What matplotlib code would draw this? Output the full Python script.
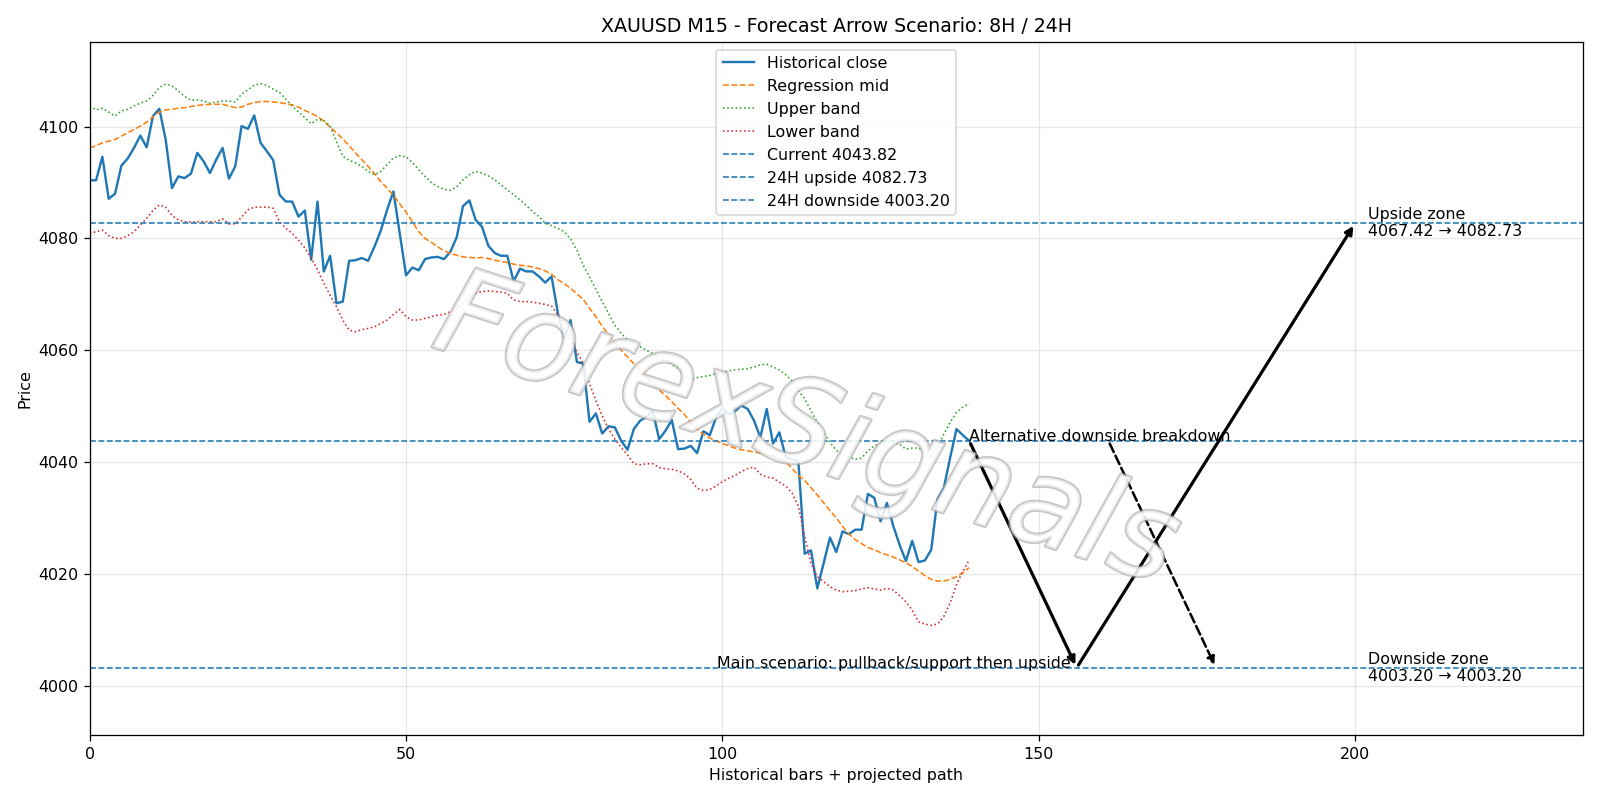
import matplotlib
matplotlib.use("Agg")
import matplotlib.pyplot as plt
import matplotlib.patheffects as pe

# ----------------------
# Data
# ----------------------
close = [
    4090.4, 4090.4, 4094.6, 4087.1, 4088.0, 4093.0, 4094.3, 4096.2, 4098.4, 4096.3,
    4101.9, 4103.2, 4097.7, 4089.0, 4091.1, 4090.8, 4091.6, 4095.3, 4093.8, 4091.7,
    4094.1, 4096.2, 4090.7, 4092.9, 4100.1, 4099.6, 4102.0, 4097.1, 4095.6, 4094.0,
    4087.8, 4086.6, 4086.6, 4083.9, 4085.0, 4076.2, 4086.6, 4074.1, 4076.9, 4068.4,
    4068.7, 4076.0, 4076.1, 4076.5, 4076.0, 4078.5, 4081.4, 4085.1, 4088.4, 4080.9,
    4073.4, 4074.8, 4074.3, 4076.3, 4076.6, 4076.7, 4076.3, 4077.6, 4080.2, 4085.8,
    4086.8, 4083.3, 4082.1, 4078.7, 4077.4, 4076.9, 4076.9, 4072.3, 4074.6, 4074.1,
    4074.1, 4073.2, 4072.1, 4073.2, 4066.6, 4062.1, 4065.4, 4057.9, 4057.6, 4047.2,
    4048.7, 4045.1, 4046.4, 4046.2, 4043.8, 4042.2, 4045.9, 4047.4, 4048.1, 4049.1,
    4044.1, 4045.6, 4047.5, 4042.3, 4042.4, 4042.9, 4041.6, 4045.5, 4044.8, 4048.0,
    4049.7, 4048.5, 4049.1, 4050.1, 4049.5, 4047.4, 4044.4, 4049.5, 4043.3, 4045.3,
    4040.9, 4040.5, 4040.2, 4023.6, 4024.2, 4017.4, 4021.9, 4026.5, 4023.9, 4027.6,
    4027.1, 4027.9, 4027.9, 4034.3, 4033.6, 4029.4, 4032.7, 4028.6, 4025.2, 4022.3,
    4025.9, 4022.1, 4022.4, 4024.3, 4033.4, 4035.4, 4040.8, 4045.9, 4044.8, 4043.8,
]

reg_mid = [
    4096.2, 4096.6, 4097.1, 4097.4, 4097.7, 4098.3, 4098.9, 4099.5, 4100.1, 4100.8,
    4101.8, 4102.6, 4103.0, 4103.1, 4103.3, 4103.4, 4103.6, 4103.8, 4103.9, 4104.0,
    4104.0, 4104.0, 4103.7, 4103.4, 4103.5, 4104.0, 4104.3, 4104.5, 4104.5, 4104.4,
    4104.3, 4104.1, 4103.9, 4103.5, 4102.9, 4102.4, 4101.8, 4101.0, 4099.9, 4098.9,
    4097.8, 4096.6, 4095.3, 4094.1, 4092.9, 4091.6, 4090.2, 4089.0, 4087.7, 4086.2,
    4084.7, 4083.0, 4081.2, 4080.0, 4079.3, 4078.5, 4077.8, 4077.3, 4077.0, 4076.7,
    4076.6, 4076.5, 4076.6, 4076.4, 4076.1, 4075.9, 4075.7, 4075.4, 4075.2, 4075.1,
    4074.9, 4074.6, 4074.2, 4073.6, 4072.6, 4071.9, 4071.1, 4070.1, 4069.1, 4067.5,
    4066.0, 4064.3, 4062.8, 4061.3, 4060.0, 4058.8, 4057.6, 4056.4, 4055.2, 4054.0,
    4052.9, 4051.9, 4050.8, 4049.6, 4048.5, 4047.1, 4045.9, 4045.0, 4044.3, 4043.8,
    4043.3, 4042.9, 4042.5, 4042.2, 4042.0, 4041.8, 4041.6, 4041.4, 4041.1, 4040.6,
    4040.0, 4038.9, 4037.6, 4036.7, 4035.4, 4034.1, 4032.7, 4031.3, 4030.0, 4028.5,
    4027.1, 4026.1, 4025.4, 4024.7, 4024.3, 4023.8, 4023.4, 4023.0, 4022.5, 4022.0,
    4021.3, 4020.5, 4019.7, 4019.0, 4018.7, 4018.7, 4019.0, 4019.5, 4020.2, 4021.1,
]

upper_band = [
    4103.7, 4103.0, 4103.3, 4102.6, 4101.9, 4102.8, 4103.1, 4103.7, 4104.2, 4104.6,
    4105.6, 4107.0, 4107.6, 4107.3, 4106.4, 4105.4, 4104.7, 4104.8, 4104.6, 4104.2,
    4104.4, 4104.6, 4104.6, 4104.4, 4105.8, 4106.6, 4107.4, 4107.7, 4107.4, 4106.7,
    4106.1, 4104.9, 4103.7, 4102.6, 4101.6, 4100.5, 4101.3, 4101.1, 4100.1, 4097.3,
    4094.7, 4094.0, 4093.5, 4092.9, 4092.0, 4091.4, 4092.0, 4093.2, 4094.4, 4094.8,
    4094.6, 4093.6, 4092.3, 4091.1, 4090.0, 4089.3, 4088.8, 4088.6, 4089.2, 4090.5,
    4091.4, 4092.0, 4091.7, 4091.2, 4090.5, 4089.6, 4088.7, 4087.8, 4086.9, 4085.9,
    4084.8, 4083.9, 4082.7, 4082.3, 4081.8, 4081.2, 4079.9, 4077.9, 4075.2, 4073.1,
    4070.9, 4068.7, 4066.6, 4064.5, 4063.0, 4061.9, 4061.2, 4060.6, 4060.0, 4059.4,
    4058.8, 4058.2, 4057.5, 4056.7, 4055.5, 4054.7, 4055.1, 4055.3, 4055.5, 4055.8,
    4056.1, 4056.3, 4056.5, 4056.6, 4056.7, 4057.0, 4057.4, 4057.5, 4057.0, 4056.5,
    4055.6, 4054.5, 4052.8, 4051.3, 4049.2, 4047.1, 4045.3, 4043.5, 4042.1, 4041.4,
    4040.9, 4040.5, 4040.7, 4042.0, 4042.9, 4043.3, 4043.5, 4043.5, 4043.2, 4042.3,
    4042.5, 4042.5, 4041.7, 4041.1, 4042.6, 4045.0, 4047.1, 4048.9, 4049.8, 4050.5,
]

lower_band = [
    4080.9, 4081.2, 4081.5, 4080.5, 4080.0, 4080.0, 4080.5, 4081.2, 4082.4, 4083.6,
    4085.0, 4086.0, 4085.6, 4084.1, 4083.3, 4083.0, 4082.9, 4083.0, 4083.0, 4083.0,
    4083.0, 4083.5, 4082.6, 4082.6, 4083.8, 4085.1, 4085.6, 4085.6, 4085.6, 4085.4,
    4083.0, 4081.8, 4080.9, 4079.7, 4078.3, 4076.5, 4074.4, 4072.0, 4069.8, 4067.8,
    4065.4, 4063.6, 4063.3, 4063.7, 4063.9, 4064.2, 4064.8, 4065.4, 4066.4, 4067.3,
    4066.0, 4065.4, 4065.4, 4065.7, 4066.0, 4066.3, 4066.4, 4066.9, 4067.3, 4068.4,
    4069.4, 4070.2, 4070.5, 4070.6, 4070.5, 4070.4, 4070.2, 4069.0, 4068.7, 4068.7,
    4068.6, 4068.4, 4068.2, 4067.9, 4066.3, 4063.8, 4061.8, 4059.7, 4057.6, 4054.0,
    4051.0, 4048.3, 4045.9, 4044.1, 4042.6, 4041.3, 4039.7, 4039.5, 4039.7, 4039.7,
    4039.0, 4038.8, 4038.7, 4038.4, 4037.9, 4036.9, 4035.3, 4034.9, 4035.1, 4035.7,
    4036.5, 4037.1, 4037.6, 4038.3, 4038.8, 4039.1, 4037.8, 4037.3, 4037.1, 4036.4,
    4035.7, 4034.5, 4032.1, 4026.7, 4021.9, 4019.5, 4018.6, 4017.7, 4017.1, 4016.8,
    4016.9, 4017.0, 4017.3, 4017.5, 4017.3, 4017.1, 4017.4, 4017.1, 4016.1, 4015.0,
    4013.5, 4011.4, 4011.0, 4010.8, 4011.0, 4012.4, 4014.8, 4018.1, 4020.4, 4022.5,
]

current_price = 4043.82
upside_24h = 4082.73
downside_24h = 4003.20
upside_zone = (4067.42, 4082.73)
downside_zone = (4003.20, 4003.20)

# projected path (bar index)
last_bar = len(close) - 1
support_bar = 156
target_bar = 200
alt_start_bar = 161
alt_end_bar = 178
label_bar = 202
x_max = 236

# ----------------------
# Plot
# ----------------------
fig, ax = plt.subplots(figsize=(14, 7), dpi=1600 / 14)
bars = list(range(len(close)))

ax.plot(bars, close, color='#1f77b4', lw=1.5, label='Historical close')
ax.plot(bars, reg_mid, '--', color='#ff7f0e', lw=1, label='Regression mid')
ax.plot(bars, upper_band, ':', color='#2ca02c', lw=1, label='Upper band')
ax.plot(bars, lower_band, ':', color='#d62728', lw=1, label='Lower band')
ax.axhline(current_price, ls='--', color='#1f77b4', lw=1, label=f'Current {current_price:.2f}')
ax.axhline(upside_24h, ls='--', color='#1f77b4', lw=1, label=f'24H upside {upside_24h:.2f}')
ax.axhline(downside_24h, ls='--', color='#1f77b4', lw=1, label=f'24H downside {downside_24h:.2f}')

# main scenario arrows
arrow_kw = dict(arrowstyle='-|>', color='black', lw=2)
ax.annotate('', xy=(support_bar, downside_24h), xytext=(last_bar, current_price),
            arrowprops=arrow_kw)
ax.annotate('', xy=(target_bar, upside_24h), xytext=(support_bar, downside_24h),
            arrowprops=arrow_kw)
# alternative scenario
ax.annotate('', xy=(alt_end_bar, downside_24h), xytext=(alt_start_bar, current_price),
            arrowprops=dict(arrowstyle='-|>', color='black', lw=1.6, ls='--'))

ax.text(last_bar, current_price, 'Alternative downside breakdown')
ax.text(155, downside_24h, 'Main scenario: pullback/support then upside', ha='right')
ax.text(label_bar, upside_24h,
        f'Upside zone\n{upside_zone[0]:.2f} → {upside_zone[1]:.2f}', va='center')
ax.text(label_bar, downside_24h,
        f'Downside zone\n{downside_zone[0]:.2f} → {downside_zone[1]:.2f}', va='center')

# watermark
ax.text(0.48, 0.435, 'ForexSignals', transform=ax.transAxes, fontsize=76,
        style='italic', rotation=-18, ha='center', va='center', color='white',
        alpha=0.65, zorder=5,
        path_effects=[pe.withStroke(linewidth=2.2, foreground='#a8a8a8')])

ax.set_xlim(0, x_max)
ax.set_ylim(3991.1, 4115.2)
ax.set_title('XAUUSD M15 - Forecast Arrow Scenario: 8H / 24H')
ax.set_xlabel('Historical bars + projected path')
ax.set_ylabel('Price')
ax.grid(True, alpha=0.3)
ax.legend(loc='upper center')

plt.tight_layout()
plt.savefig('out.png')
